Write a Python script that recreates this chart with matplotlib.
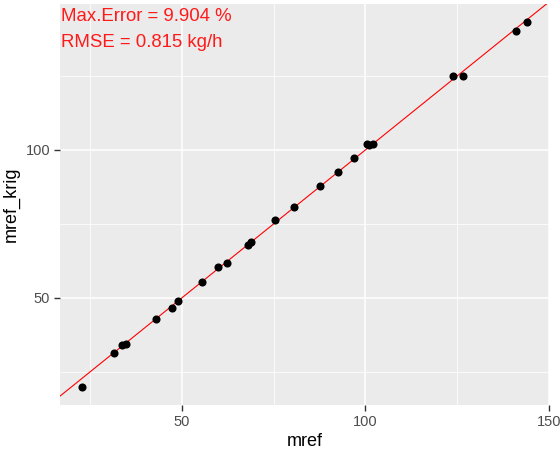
import matplotlib.pyplot as plt
import numpy as np

plt.rcParams['font.family'] = ['Liberation Sans', 'DejaVu Sans']

# reference vs kriging estimates (kg/h)
mref = [22.8, 31.5, 33.6, 34.8, 42.8, 47.4, 48.8, 55.4, 59.9, 62.4,
        68.0, 68.75, 75.3, 80.6, 87.7, 92.4, 96.8, 100.4, 101.0, 102.1,
        123.9, 126.5, 141.0, 144.0]
mref_krig = [19.9, 31.3, 33.9, 34.2, 42.7, 46.5, 48.8, 55.2, 60.5, 61.8,
             67.9, 68.7, 76.3, 80.8, 87.9, 92.7, 97.4, 101.9, 101.8, 101.9,
             124.9, 124.9, 140.1, 143.2]
labels = ["Max.Error = 9.904 %", "RMSE = 0.815 kg/h"]

fig = plt.figure(figsize=(5.6, 4.55), dpi=100)
ax = fig.add_axes([60 / 560, 1 - 405 / 455, 489 / 560, 401 / 455])
ax.set_facecolor('#EBEBEB')
for s in ax.spines.values():
    s.set_visible(False)

x = np.array(mref)
y = np.array(mref_krig)
xr = x.max() - x.min()
yr = y.max() - y.min()
xlim = (x.min() - 0.05 * xr, x.max() + 0.05 * xr)
ylim = (y.min() - 0.05 * yr, y.max() + 0.05 * yr)

# grid like ggplot theme_gray
ax.set_xticks([50, 100, 150])
ax.set_yticks([50, 100])
ax.set_xticks([25, 75, 125], minor=True)
ax.set_yticks([25, 75, 125], minor=True)
ax.grid(True, which='major', color='white', lw=1.1)
ax.grid(True, which='minor', color='white', lw=0.55)
ax.set_axisbelow(True)
ax.tick_params(which='minor', length=0)
ax.tick_params(which='major', length=4, width=1, color='#333333',
               labelsize=10.5, labelcolor='#4D4D4D', pad=3)

# y = x reference line
ax.axline((0, 0), slope=1, color='red', lw=0.8, zorder=2)
ax.scatter(x, y, s=34, color='black', zorder=3, linewidths=0)

ax.set_xlim(xlim)
ax.set_ylim(ylim)

ax.text(0.002, 1 - 17 / 401, labels[0], transform=ax.transAxes, ha='left',
        va='baseline', color='#FF1A1A', fontsize=13.4)
ax.text(0.002, 1 - 42.7 / 401, labels[1], transform=ax.transAxes, ha='left',
        va='baseline', color='#FF1A1A', fontsize=13.4)

ax.set_xlabel('mref', fontsize=13, labelpad=3)
ax.set_ylabel('mref_krig', fontsize=13, labelpad=4)

plt.savefig('out.png', dpi=100)
plt.close()
